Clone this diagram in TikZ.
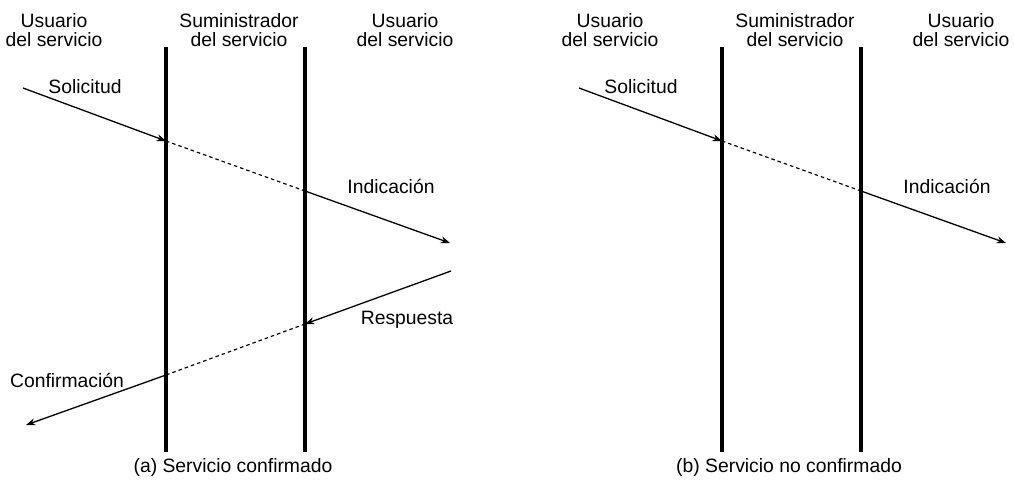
\documentclass[tikz,border=0pt]{standalone}
\usepackage{fontspec}
\setmainfont{Liberation Sans}
\usetikzlibrary{arrows.meta}

\begin{document}
\begin{tikzpicture}[x=0.03cm,y=-0.03cm,
		texto/.style={font=\fontsize{16.5}{16.4}\selectfont,inner sep=0pt,align=center},
		barra/.style={line width=3pt},
		flecha/.style={line width=1.1pt,-{Stealth[length=8pt,width=6pt]}},
		trazo/.style={line width=1pt,dash pattern=on 3pt off 2.6pt}]
		\useasboundingbox (0,0) rectangle (1014,485);
		% 两个面板共有的部分
		\foreach \dx/\p/\txt in {0/a/{(a) Servicio confirmado},556/b/{(b) Servicio no confirmado}}{
			% 标题
			\node[texto,anchor=north] (us1\p) at (54+\dx,13) {Usuario\\del servicio};
			\node[texto,anchor=north] (sum\p) at (239+\dx,13) {Suministrador\\del servicio};
			\node[texto,anchor=north] (us2\p) at (405+\dx,13) {Usuario\\del servicio};
			\node[texto] (cap\p) at (233+\dx,467) {\txt};
			% 竖线端点与交点
			\coordinate (b1s\p) at (166+\dx,47);
			\coordinate (b1i\p) at (166+\dx,452);
			\coordinate (b2s\p) at (305+\dx,47);
			\coordinate (b2i\p) at (305+\dx,452);
			\coordinate (sol0\p) at (23+\dx,88);
			\coordinate (sol1\p) at (166+\dx,141);
			\coordinate (sol2\p) at (305+\dx,191);
			\coordinate (sol3\p) at (450+\dx,243);
			% 请求与指示
			\draw[flecha] (sol0\p) -- (sol1\p);
			\draw[trazo] (sol1\p) -- (sol2\p);
			\draw[flecha] (sol2\p) -- (sol3\p);
			\node[texto] (sol\p) at (85+\dx,87) {Solicitud};
			\node[texto] (ind\p) at (391+\dx,186) {Indicación};
			% 竖线
			\draw[barra] (b1s\p) -- (b1i\p);
			\draw[barra] (b2s\p) -- (b2i\p);
		}
		% 响应与确认（只在 (a) 中）
		\coordinate (res0) at (451,271);
		\coordinate (res1) at (305,324);
		\coordinate (res2) at (166,375);
		\coordinate (res3) at (26,425);
		\draw[flecha] (res0) -- (res1);
		\draw[trazo] (res1) -- (res2);
		\draw[flecha] (res2) -- (res3);
		\draw[barra] (b1sa) -- (b1ia);
		\draw[barra] (b2sa) -- (b2ia);
		\node[texto] (resp) at (407,320) {Respuesta};
		\node[texto] (conf) at (67,380) {Confirmación};
	\end{tikzpicture}
\end{document}
